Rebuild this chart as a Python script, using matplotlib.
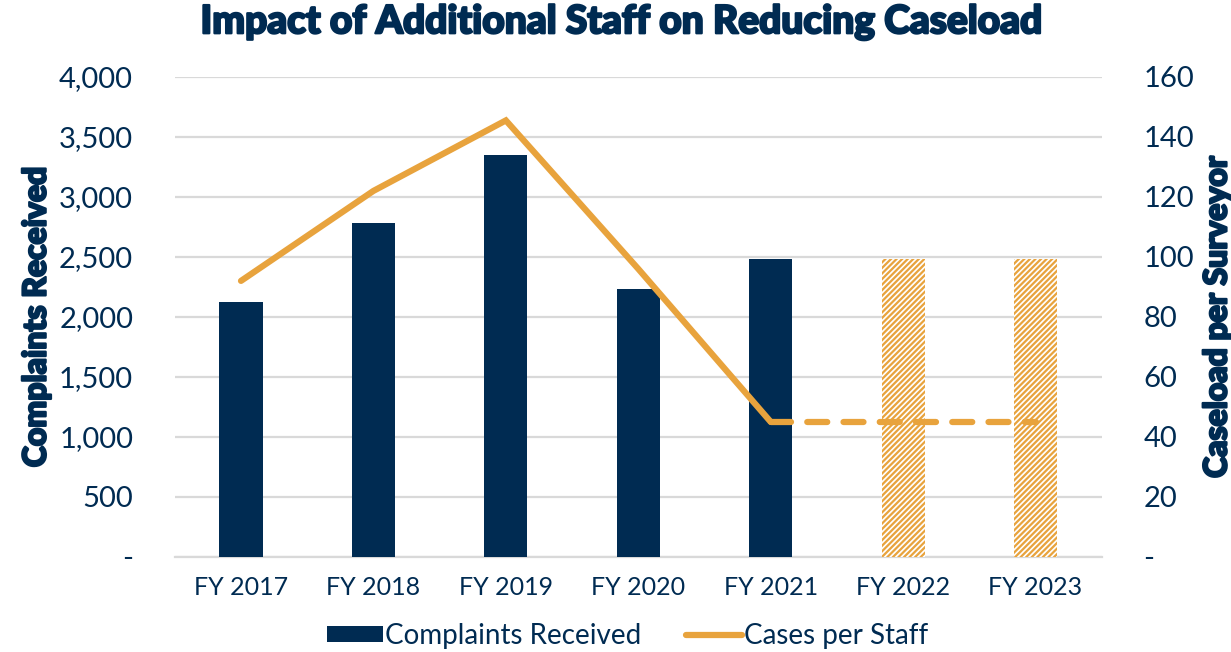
import numpy as np
import matplotlib.pyplot as plt
import matplotlib.patheffects as pe
from matplotlib.ticker import FuncFormatter, MultipleLocator
from matplotlib.patches import Patch
from matplotlib.lines import Line2D

# Data
years = ['FY 2017', 'FY 2018', 'FY 2019', 'FY 2020', 'FY 2021', 'FY 2022', 'FY 2023']
complaints = [2120, 2780, 3350, 2230, 2485, np.nan, np.nan]
complaints_proj = [np.nan, np.nan, np.nan, np.nan, np.nan, 2485, 2485]
cases_per_staff = [92, 122, 145.5, 96, 45, np.nan, np.nan]
cases_proj = [np.nan, np.nan, np.nan, np.nan, 45, 45, 45]

navy = '#002B52'
orange = '#E8A33D'
grid_c = '#D9D9D9'

plt.rcParams['font.family'] = ['Lato', 'DejaVu Sans']
plt.rcParams['hatch.linewidth'] = 1.6

# heavier look for title and axis titles
heavy = [pe.withStroke(linewidth=1.6, foreground=navy)]

fig = plt.figure(figsize=(12.31, 6.52), dpi=100)
ax = fig.add_axes([0.142, 0.146, 0.753, 0.736])
x = np.arange(len(years))
w = 0.325

ax.bar(x, complaints, width=w, color=navy, zorder=3)
ax.bar(x, complaints_proj, width=w, facecolor='white', edgecolor=orange,
       hatch='//////', linewidth=0, zorder=3)

ax.set_ylim(0, 4000)
ax.set_xlim(-0.5, len(years) - 0.5)
ax.yaxis.set_major_locator(MultipleLocator(500))
ax.yaxis.set_major_formatter(FuncFormatter(lambda v, p: '-' if v == 0 else f'{v:,.0f}'))
ax.grid(axis='y', color=grid_c, linewidth=1.6, zorder=0)
ax.set_axisbelow(True)
for s in ['top', 'left', 'right']:
    ax.spines[s].set_visible(False)
ax.spines['bottom'].set_color(grid_c)
ax.spines['bottom'].set_linewidth(1.6)
ax.set_xticks(x)
ax.set_xticklabels(years)
ax.tick_params(axis='x', length=0, pad=14, labelsize=18, labelcolor=navy)
ax.tick_params(axis='y', length=0, pad=30, labelsize=21, labelcolor=navy)
ax.set_ylabel('Complaints Received', fontsize=23, fontweight='black', color=navy,
              labelpad=6, path_effects=heavy)

ax2 = ax.twinx()
ax2.plot(x, cases_per_staff, color=orange, linewidth=4.5, solid_capstyle='round',
         solid_joinstyle='miter', zorder=4)
ax2.plot(x, cases_proj, color=orange, linewidth=4.5, linestyle=(0, (3.2, 2.6)),
         dash_capstyle='round', zorder=4)
ax2.set_ylim(0, 160)
ax2.yaxis.set_major_locator(MultipleLocator(20))
ax2.yaxis.set_major_formatter(FuncFormatter(lambda v, p: '-' if v == 0 else f'{v:.0f}'))
for s in ['top', 'left', 'right', 'bottom']:
    ax2.spines[s].set_visible(False)
ax2.tick_params(axis='y', length=0, pad=30, labelsize=21, labelcolor=navy)
ax2.set_ylabel('Caseload per Surveyor', fontsize=23, fontweight='black', color=navy,
               labelpad=6, path_effects=heavy)

fig.suptitle('Impact of Additional Staff on Reducing Caseload', x=0.505, y=0.995,
             fontsize=28, fontweight='black', color=navy, path_effects=heavy)

handles = [Patch(facecolor=navy, edgecolor='none'),
           Line2D([0], [0], color=orange, linewidth=4.5, solid_capstyle='round')]
fig.legend(handles, ['Complaints Received', 'Cases per Staff'], loc='center',
           bbox_to_anchor=(0.51, 0.025), ncol=2, frameon=False, fontsize=20,
           labelcolor=navy, handlelength=2.0, handleheight=0.5, handletextpad=0.1,
           columnspacing=1.6)

fig.savefig('out.png', dpi=100)
